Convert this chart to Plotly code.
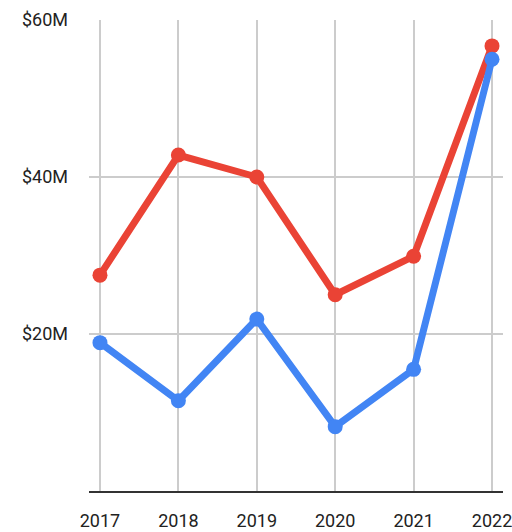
import plotly.graph_objects as go

years = [2017, 2018, 2019, 2020, 2021, 2022]
red_values = [27.5, 42.8, 40.0, 25.0, 29.9, 56.7]
blue_values = [18.9, 11.5, 21.9, 8.2, 15.5, 55.0]
y_ticks = [20, 40, 60]
y_tick_labels = ["$20M", "$40M", "$60M"]

fig = go.Figure()
fig.add_trace(go.Scatter(x=years, y=red_values, mode="lines+markers",
                         line=dict(color="#EA4335", width=7),
                         marker=dict(color="#EA4335", size=15), name="Red"))
fig.add_trace(go.Scatter(x=years, y=blue_values, mode="lines+markers",
                         line=dict(color="#4285F4", width=7),
                         marker=dict(color="#4285F4", size=15), name="Blue"))

fig.update_layout(
    width=512, height=532,
    margin=dict(l=89, r=9, t=20, b=41),
    plot_bgcolor="white", paper_bgcolor="white",
    showlegend=False,
    font=dict(family="Roboto", size=18, color="#222"),
)
fig.update_xaxes(
    range=[2017 - 0.14, 2022 + 0.14],
    tickvals=years, ticktext=[str(y) for y in years],
    showgrid=True, gridcolor="#cccccc", gridwidth=2,
    showline=True, linecolor="#333333", linewidth=2,
    zeroline=False, ticks="", ticklabelstandoff=12, automargin=False,
    ticklabeloverflow="allow",
)
fig.update_yaxes(
    range=[0, 60],
    tickvals=y_ticks, ticktext=y_tick_labels,
    showgrid=True, gridcolor="#cccccc", gridwidth=2,
    zeroline=False, showline=False, ticks="", ticklabelstandoff=20, automargin=False,
)
fig.write_html("out.html")
